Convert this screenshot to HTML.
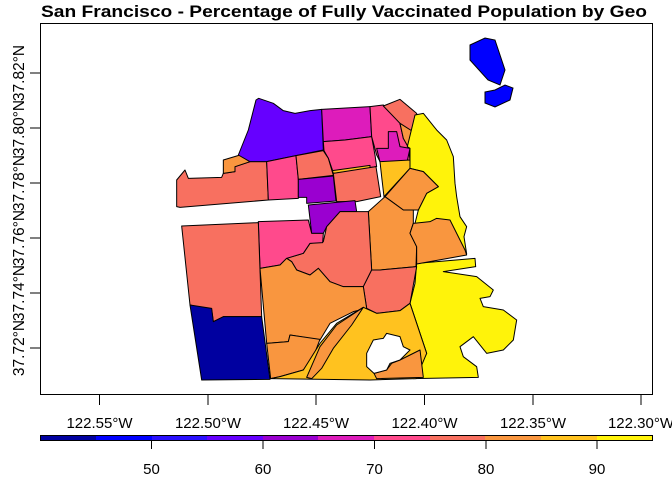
<!DOCTYPE html>
<html><head><style>body{margin:0;background:#fff}svg{display:block}text{font-family:"Liberation Sans",Arial,sans-serif}</style></head><body>
<svg width="672" height="480" viewBox="0 0 672 480" xmlns="http://www.w3.org/2000/svg">
<text x="344" y="17" text-anchor="middle" font-weight="bold" font-size="16.5" textLength="606" lengthAdjust="spacingAndGlyphs">San Francisco - Percentage of Fully Vaccinated Population by Geo</text>
<rect x="40.5" y="23.5" width="612" height="371" fill="none" stroke="#000" stroke-width="1"/>
<g transform="translate(170,90) scale(0.33333)" stroke="#000" stroke-width="3" stroke-linejoin="round">
<polygon fill="#F87060" points="20,350 20,270 45,240 55,265 155,262 160,250 195,245 195,230 240,215 290,215 295,330 30,352"/>
<polygon fill="#F9963F" points="160,210 210,195 240,215 195,230 195,245 160,250"/>
<polygon fill="#6600FF" points="205,195 235,120 258,30 266,25 310,40 340,62 375,70 420,62 455,58 460,180 378,197 290,215 240,215"/>
<polygon fill="#DD1CBB" points="455,58 600,50 605,140 525,150 460,155"/>
<polygon fill="#FF4A8C" points="460,155 525,150 605,140 615,195 620,230 490,248 475,205 462,182"/>
<polygon fill="#FF4A8C" points="290,215 378,197 385,268 385,325 295,330"/>
<polygon fill="#F87060" points="378,197 460,182 475,205 490,256 385,268"/>
<polygon fill="#9A00D0" points="385,268 490,258 498,333 410,340 410,322 385,322"/>
<polygon fill="#FFC21F" points="487,242 600,226 600,236 490,250"/>
<polygon fill="#F87060" points="490,250 618,230 632,320 560,335 500,335"/>
<polygon fill="#9A00D0" points="415,345 555,332 560,365 510,365 470,410 460,430 425,430"/>
<polygon fill="#FF4A8C" points="600,50 640,45 690,100 700,145 715,170 720,210 630,215 620,195 605,140"/>
<polygon fill="#DD1CBB" points="620,175 655,175 655,125 680,125 690,170 720,175 712,212 630,216"/>
<polygon fill="#F87060" points="640,48 690,28 740,70 745,135 700,140 690,100"/>
<polygon fill="#F9963F" points="690,100 745,135 760,140 758,165 715,172 700,145"/>
<polygon fill="#FFF30A" points="735,75 760,70 800,120 830,150 850,200 855,280 860,320 870,380 890,410 882,440 890,492 740,520 735,400 745,360 770,310 805,290 760,245 720,235 720,175 712,170"/>
<polygon fill="#FFF30A" points="740,520 915,505 917,530 820,545 920,560 970,600 960,620 930,625 940,650 1000,660 1040,690 1030,750 1000,780 950,790 910,740 870,770 880,800 920,830 925,862 730,866 770,790 720,640 735,580"/>
<polygon fill="#FFC21F" points="630,215 720,210 720,235 642,320 635,260"/>
<polygon fill="#F9963F" points="645,320 720,235 760,245 805,290 770,310 745,360 700,360"/>
<polygon fill="#F9963F" points="595,365 645,320 700,360 730,360 730,400 720,430 740,470 738,530 630,540 605,540"/>
<polygon fill="#F9963F" points="730,400 780,395 800,385 840,390 885,480 890,495 740,522 740,470 720,430"/>
<polygon fill="#F87060" points="350,505 400,490 420,460 460,455 470,410 510,365 595,365 605,540 580,590 520,590 480,575 445,535 420,555 380,540 365,515"/>
<polygon fill="#F87060" points="605,540 630,540 740,530 720,640 690,662 620,670 590,655 580,590"/>
<polygon fill="#FF4A8C" points="265,395 415,390 425,430 460,430 458,458 420,460 400,490 350,505 330,525 270,535"/>
<polygon fill="#F87060" points="35,408 265,398 275,680 160,680 130,695 125,660 60,645"/>
<polygon fill="#0000A0" points="60,645 125,655 130,695 160,680 275,680 300,868 95,870"/>
<polygon fill="#F9963F" points="270,535 330,525 350,505 365,515 380,540 420,555 445,535 480,575 520,590 580,590 590,655 550,665 480,700 450,750 360,735 355,755 290,760"/>
<polygon fill="#F9963F" points="290,760 355,755 360,735 450,748 430,800 400,840 330,860 302,866"/>
<polygon fill="#FFC21F" points="302,866 330,860 400,840 450,760 500,700 580,652 620,670 690,662 720,640 770,790 738,866 600,870"/>
<polygon fill="#F9963F" points="410,862 450,770 500,705 580,652 545,705 490,775 455,835 425,866"/>
<polygon fill="#F9963F" points="690,810 750,780 760,862 620,866 612,850 650,840 665,820"/>
<polygon fill="#fff" points="590,790 610,750 640,745 650,730 690,740 700,770 720,780 690,810 660,820 650,840 612,850 590,830"/>
</g>
<polygon fill="#0000FF" stroke="#000" points="470,45 485,38 495,40 505,70 500,85 488,80 470,60"/>
<polygon fill="#0000FF" stroke="#000" points="485,92 495,90 505,85 513,88 510,100 495,107 485,103"/>
<g stroke="#000">
<line x1="30" y1="73" x2="40" y2="73"/><line x1="30" y1="128" x2="40" y2="128"/><line x1="30" y1="183" x2="40" y2="183"/><line x1="30" y1="238" x2="40" y2="238"/><line x1="30" y1="293" x2="40" y2="293"/><line x1="30" y1="348" x2="40" y2="348"/>
<line x1="99.5" y1="395" x2="99.5" y2="405"/><line x1="208" y1="395" x2="208" y2="405"/><line x1="316" y1="395" x2="316" y2="405"/><line x1="424.5" y1="395" x2="424.5" y2="405"/><line x1="533" y1="395" x2="533" y2="405"/><line x1="641" y1="395" x2="641" y2="405"/>
</g>
<g font-size="15" text-anchor="middle">
<text x="99.5" y="428">122.55°W</text><text x="208" y="428">122.50°W</text><text x="316" y="428">122.45°W</text><text x="424.5" y="428">122.40°W</text><text x="533" y="428">122.35°W</text><text x="641" y="428">122.30°W</text>
<g transform="translate(19,0)" font-size="15.5">
<text transform="translate(0,73) rotate(-90)" y="5">37.82°N</text><text transform="translate(0,128) rotate(-90)" y="5">37.80°N</text><text transform="translate(0,183) rotate(-90)" y="5">37.78°N</text><text transform="translate(0,238) rotate(-90)" y="5">37.76°N</text><text transform="translate(0,293) rotate(-90)" y="5">37.74°N</text><text transform="translate(0,348) rotate(-90)" y="5">37.72°N</text>
</g>
<text x="151.5" y="474">50</text><text x="263" y="474">60</text><text x="374.5" y="474">70</text><text x="486" y="474">80</text><text x="597" y="474">90</text>
</g>
<g stroke="none">
<rect x="40" y="435" width="56" height="5" fill="#0000A0"/><rect x="96" y="435" width="56" height="5" fill="#0000FF"/><rect x="152" y="435" width="56" height="5" fill="#2A10FF"/><rect x="207" y="435" width="56" height="5" fill="#6600FF"/><rect x="263" y="435" width="56" height="5" fill="#9A00D0"/><rect x="318" y="435" width="56" height="5" fill="#DD1CBB"/><rect x="374" y="435" width="56" height="5" fill="#FF4A8C"/><rect x="430" y="435" width="56" height="5" fill="#F87060"/><rect x="485" y="435" width="56" height="5" fill="#F9963F"/><rect x="541" y="435" width="56" height="5" fill="#FFC21F"/><rect x="597" y="435" width="56" height="5" fill="#FFF30A"/>
</g>
<rect x="40.5" y="435.5" width="612" height="5" fill="none" stroke="#000"/>
<g stroke="#000"><line x1="151.5" y1="440" x2="151.5" y2="449"/><line x1="263" y1="440" x2="263" y2="449"/><line x1="374.5" y1="440" x2="374.5" y2="449"/><line x1="486" y1="440" x2="486" y2="449"/><line x1="597" y1="440" x2="597" y2="449"/></g>
</svg>
</body></html>
